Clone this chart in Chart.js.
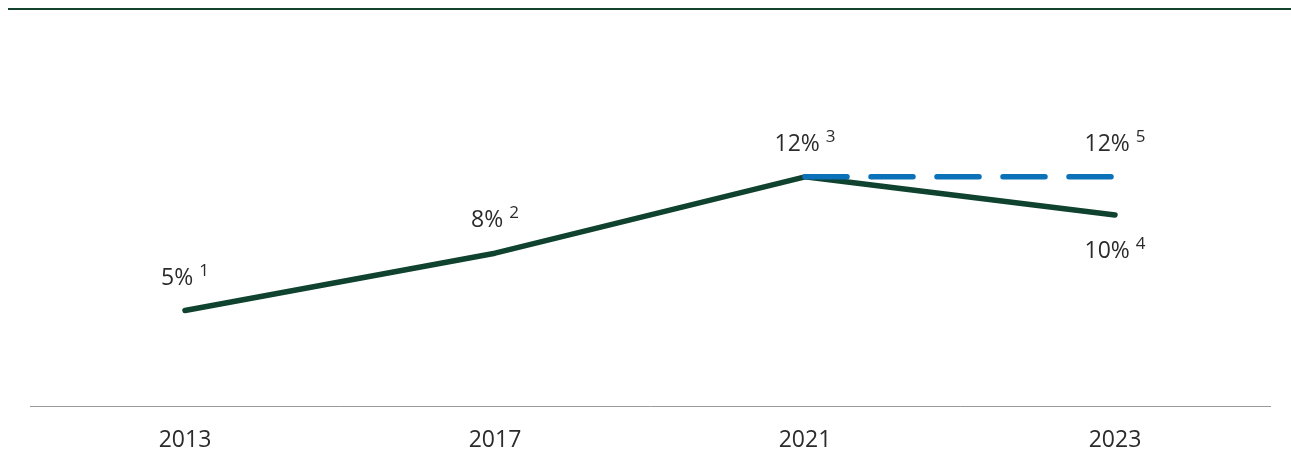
<!DOCTYPE html>
<html>
<head>
<meta charset="utf-8">
<script src="https://cdn.jsdelivr.net/npm/chart.js@4"></script>
<style>
  html, body { margin: 0; padding: 0; background: #fff; }
  .wrap { position: relative; width: 1291px; height: 459px; }
  .topline { position: absolute; left: 8px; right: 0; top: 8px; border-top: 2px solid #13432f; }
  canvas { position: absolute; left: 0; top: 0; }
</style>
</head>
<body>
<div class="wrap">
  <div class="topline"></div>
  <canvas id="chart" width="1291" height="459"></canvas>
</div>
<script>
// Data
const years = ['2013', '2017', '2021', '2023'];
const actual = [5, 8, 12, 10];
const target = [null, null, 12, 12];
const actualNotes = ['1', '2', '3', '4'];
const targetNotes = [null, null, null, '5'];
const actualBelow = [false, false, false, true];

const FONT = '"Open Sans", sans-serif';
const TEXT = '#2b2b2b';

// Value labels with footnote numbers
const valueLabels = {
  id: 'valueLabels',
  afterDatasetsDraw(chart) {
    const ctx = chart.ctx;
    const sets = [
      { ds: 0, notes: actualNotes, below: actualBelow },
      { ds: 1, notes: targetNotes, below: [false, false, false, false] }
    ];
    ctx.save();
    ctx.fillStyle = TEXT;
    ctx.textBaseline = 'alphabetic';
    ctx.textAlign = 'left';
    sets.forEach(s => {
      const meta = chart.getDatasetMeta(s.ds);
      const data = chart.data.datasets[s.ds].data;
      meta.data.forEach((pt, i) => {
        if (data[i] == null || !s.notes[i]) return;
        const main = data[i] + '%';
        ctx.font = '23px ' + FONT;
        const w1 = ctx.measureText(main).width;
        ctx.font = '17px ' + FONT;
        const w2 = ctx.measureText(s.notes[i]).width;
        const gap = 6;
        const x0 = pt.x - (w1 + gap + w2) / 2;
        const base = s.below[i] ? pt.y + 43 : pt.y - 26;
        ctx.font = '23px ' + FONT;
        ctx.fillText(main, x0, base);
        ctx.font = '17px ' + FONT;
        ctx.fillText(s.notes[i], x0 + w1 + gap, base - 9);
      });
    });
    ctx.restore();
  }
};

new Chart(document.getElementById('chart'), {
  type: 'line',
  data: {
    labels: years,
    datasets: [
      {
        data: actual,
        borderColor: '#10432f',
        borderWidth: 5.5,
        borderCapStyle: 'round',
        borderJoinStyle: 'round',
        pointRadius: 0,
        tension: 0,
        order: 2
      },
      {
        data: target,
        borderColor: '#0b72b9',
        borderWidth: 5.5,
        borderDash: [42, 24],
        borderCapStyle: 'round',
        pointRadius: 0,
        tension: 0,
        order: 1
      }
    ]
  },
  options: {
    responsive: false,
    animation: false,
    layout: { padding: { left: 30, right: 21, top: 24, bottom: 0 } },
    plugins: { legend: { display: false }, tooltip: { enabled: false } },
    scales: {
      x: {
        offset: true,
        grid: { display: false, drawTicks: false },
        border: { display: true, color: '#9a9a9a', width: 1 },
        ticks: { color: TEXT, font: { family: FONT, size: 23 }, padding: 21 },
        afterFit(scale) { scale.height = 53; }
      },
      y: {
        display: false,
        min: 0,
        max: 20
      }
    }
  },
  plugins: [valueLabels]
});
</script>
</body>
</html>
